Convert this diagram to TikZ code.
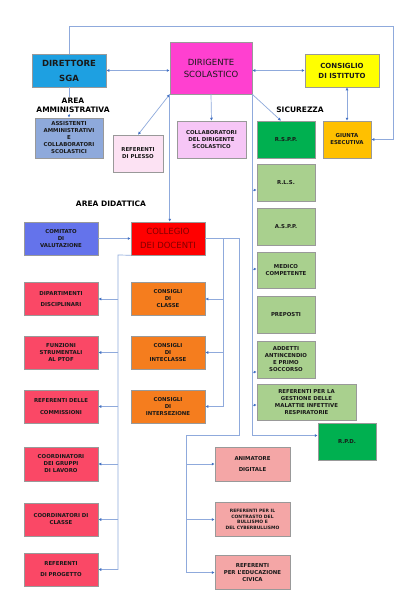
\documentclass[tikz,border=0pt]{standalone}
\usepackage{fontspec}
\setmainfont{DejaVu Sans}
\usetikzlibrary{arrows.meta}

\definecolor{linkblue}{RGB}{143,170,220}
\definecolor{tipblue}{RGB}{68,114,196}
\definecolor{sgablue}{RGB}{30,160,225}
\definecolor{dsmagenta}{RGB}{255,64,208}
\definecolor{cdiyellow}{RGB}{255,255,0}
\definecolor{ammblue}{RGB}{142,169,219}
\definecolor{plessopink}{RGB}{252,226,243}
\definecolor{collabpink}{RGB}{246,198,246}
\definecolor{secgreen}{RGB}{0,176,80}
\definecolor{giuntaorange}{RGB}{255,192,0}
\definecolor{lightgreen}{RGB}{169,208,142}
\definecolor{comitatoblue}{RGB}{100,115,235}
\definecolor{collegiored}{RGB}{255,0,0}
\definecolor{collegiotext}{RGB}{130,0,0}
\definecolor{didred}{RGB}{250,72,102}
\definecolor{consorange}{RGB}{245,125,30}
\definecolor{refpink}{RGB}{244,166,166}

\begin{document}
\begin{tikzpicture}[x=1pt, y=-1pt,
    >={Latex[length=3pt,width=3pt,color=tipblue]},
    box/.style={draw=black!40, line width=0.5pt, align=center, inner sep=1pt, text=black!90},
    bigtxt/.style={font=\bfseries\fontsize{8.5}{11}\selectfont},
    regtxt/.style={font=\fontsize{8.5}{12}\selectfont},
    midtxt/.style={font=\bfseries\fontsize{7}{10}\selectfont},
    smalltxt/.style={font=\bfseries\fontsize{5.4}{7}\selectfont},
    tinytxt/.style={font=\bfseries\fontsize{4.5}{5.5}\selectfont},
    area/.style={align=center, inner sep=1pt, font=\bfseries\fontsize{7.5}{9}\selectfont},
    link/.style={draw=linkblue, line width=0.7pt}]
    \fill[white] (0,0) rectangle (413,610);
    \useasboundingbox (0,0) rectangle (413,610);

    \node[box, bigtxt, fill=sgablue, minimum width=74pt, minimum height=33pt] (sga) at (69,70.5) {DIRETTORE\\[4pt]SGA};
    \node[box, regtxt, fill=dsmagenta, minimum width=82pt, minimum height=52pt] (ds) at (211,68) {DIRIGENTE\\SCOLASTICO};
    \node[box, midtxt, fill=cdiyellow, minimum width=74pt, minimum height=33pt] (cdi) at (342,70.5) {CONSIGLIO\\DI ISTITUTO};

    \node[box, smalltxt, fill=ammblue, minimum width=68pt, minimum height=40pt] (ata) at (69,138) {ASSISTENTI\\AMMINISTRATIVI\\E\\COLLABORATORI\\SCOLASTICI};
    \node[box, smalltxt, fill=plessopink, minimum width=50pt, minimum height=37pt] (plesso) at (138,153.5) {REFERENTI\\DI PLESSO};
    \node[box, smalltxt, fill=collabpink, minimum width=69pt, minimum height=37pt] (collab) at (211.5,139.5) {COLLABORATORI\\DEL DIRIGENTE\\SCOLASTICO};
    \node[box, smalltxt, fill=secgreen, minimum width=58pt, minimum height=37pt] (rspp) at (286,139.5) {R.S.P.P.};
    \node[box, smalltxt, fill=giuntaorange, minimum width=48pt, minimum height=37pt] (giunta) at (347,139.5) {GIUNTA\\ESECUTIVA};

    \node[box, smalltxt, fill=lightgreen, minimum width=58pt, minimum height=37pt] (rls) at (286,182.5) {R.L.S.};
    \node[box, smalltxt, fill=lightgreen, minimum width=58pt, minimum height=37pt] (aspp) at (286,226.5) {A.S.P.P.};
    \node[box, smalltxt, fill=lightgreen, minimum width=58pt, minimum height=36pt] (medico) at (286,270) {MEDICO\\COMPETENTE};
    \node[box, smalltxt, fill=lightgreen, minimum width=58pt, minimum height=37pt] (preposti) at (286,314.5) {PREPOSTI};
    \node[box, smalltxt, fill=lightgreen, minimum width=58pt, minimum height=37pt] (addetti) at (286,359.5) {ADDETTI\\ANTINCENDIO\\E PRIMO\\SOCCORSO};
    \node[box, smalltxt, fill=lightgreen, minimum width=99pt, minimum height=36pt] (malattie) at (306.5,402) {REFERENTI PER LA\\GESTIONE DELLE\\MALATTIE INFETTIVE\\RESPIRATORIE};
    \node[box, smalltxt, fill=secgreen, minimum width=58pt, minimum height=37pt] (rpd) at (347,441.5) {R.P.D.};

    \node[box, smalltxt, fill=comitatoblue, minimum width=74pt, minimum height=33pt] (comitato) at (61,238.5) {COMITATO\\DI\\VALUTAZIONE};
    \node[box, regtxt, text=collegiotext, fill=collegiored, minimum width=74pt, minimum height=33pt] (collegio) at (168,238.5) {COLLEGIO\\[2pt]DEI DOCENTI};

    \node[box, smalltxt, fill=didred, minimum width=74pt, minimum height=33pt] (dipart) at (61,299) {DIPARTIMENTI\\[4pt]DISCIPLINARI};
    \node[box, smalltxt, fill=didred, minimum width=74pt, minimum height=33pt] (funzioni) at (61,352.5) {FUNZIONI\\STRUMENTALI\\AL PTOF};
    \node[box, smalltxt, fill=didred, minimum width=74pt, minimum height=33pt] (commiss) at (61,406.5) {REFERENTI DELLE\\[5pt]COMMISSIONI};
    \node[box, smalltxt, fill=didred, minimum width=74pt, minimum height=34pt] (gruppi) at (61,464) {COORDINATORI\\DEI GRUPPI\\DI LAVORO};
    \node[box, smalltxt, fill=didred, minimum width=74pt, minimum height=33pt] (coordcl) at (61,519.5) {COORDINATORI DI\\CLASSE};
    \node[box, smalltxt, fill=didred, minimum width=74pt, minimum height=33pt] (progetto) at (61,569.5) {REFERENTI\\[4pt]DI PROGETTO};

    \node[box, smalltxt, fill=consorange, minimum width=74pt, minimum height=33pt] (classe) at (168,299) {CONSIGLI\\DI\\CLASSE};
    \node[box, smalltxt, fill=consorange, minimum width=74pt, minimum height=33pt] (intercl) at (168,352.5) {CONSIGLI\\DI\\INTECLASSE};
    \node[box, smalltxt, fill=consorange, minimum width=74pt, minimum height=33pt] (intersez) at (168,406.5) {CONSIGLI\\DI\\INTERSEZIONE};

    \node[box, smalltxt, fill=refpink, minimum width=75pt, minimum height=34pt] (animatore) at (252.5,464) {ANIMATORE\\[4pt]DIGITALE};
    \node[box, tinytxt, fill=refpink, minimum width=75pt, minimum height=34pt] (bullismo) at (252.5,519.5) {REFERENTI PER IL\\CONTRASTO DEL\\BULLISMO E\\DEL CYBERBULLISMO};
    \node[box, smalltxt, fill=refpink, minimum width=75pt, minimum height=34pt] (civica) at (252.5,572.5) {REFERENTI\\PER L'EDUCAZIONE\\CIVICA};

    \coordinate (topwire) at (393,26);
    \coordinate (cbusA) at (223,240);
    \coordinate (turn) at (239,435);
    \coordinate (pbus) at (186,435);
    \coordinate (lbus) at (118,255);
    \coordinate (rpdin) at ([yshift=6pt]rpd.west);

    \draw[link, ->] (sga.north) |- (topwire) |- (giunta.east);
    \draw[link, <->] (sga.east) -- (ds.west |- sga.east);
    \draw[link, <->] (ds.east |- cdi.west) -- (cdi.west);
    \draw[link, <->] (giunta.north |- cdi.south) -- (giunta.north);
    \draw[link, ->] (sga.south) -- (ata.north);
    \draw[link, <->] (ds.south west) -- (plesso.north);
    \draw[link, ->] (ds.south) -- (collab.north);
    \draw[link, ->] (ds.south east) -- ([xshift=-5pt]rspp.north);
    \draw[link, ->] (ds.south west) -- (ds.south west |- collegio.north);
    \draw[link, ->] (ds.south east) |- (rpdin);
    \foreach \n/\s in {rls/-7.5, medico/1, addetti/-12.5, malattie/-3} {
        \coordinate (\n-in) at ([yshift=\s pt]\n.west);
        \draw[link, ->] (ds.south east |- \n-in) -- (\n-in);
    }

    \draw[link, ->] (comitato.east) -- (collegio.west);
    \draw[link, ->] (collegio.east) -| (cbusA |- intersez.east) -- (intersez.east);
    \draw[link, ->] (cbusA |- classe.east) -- (classe.east);
    \draw[link, ->] (cbusA |- intercl.east) -- (intercl.east);
    \draw[link, ->] (collegio.east) -| (turn) -- (pbus) |- (civica.west);
    \draw[link, ->] (pbus |- animatore.west) -- (animatore.west);
    \draw[link, ->] (pbus |- bullismo.west) -- (bullismo.west);
    \draw[link, ->] (collegio.south west) -- (lbus) |- (progetto.east);
    \foreach \n in {dipart, funzioni, commiss, gruppi, coordcl}
        \draw[link, ->] (lbus |- \n.east) -- (\n.east);

    \node[area, fill=white] (areaamm) at (73,105.5) {AREA\\AMMINISTRATIVA};
    \node[area] (sicurezza) at (300,110) {SICUREZZA};
    \node[area] (areadid) at (111,204) {AREA DIDATTICA};
\end{tikzpicture}
\end{document}
